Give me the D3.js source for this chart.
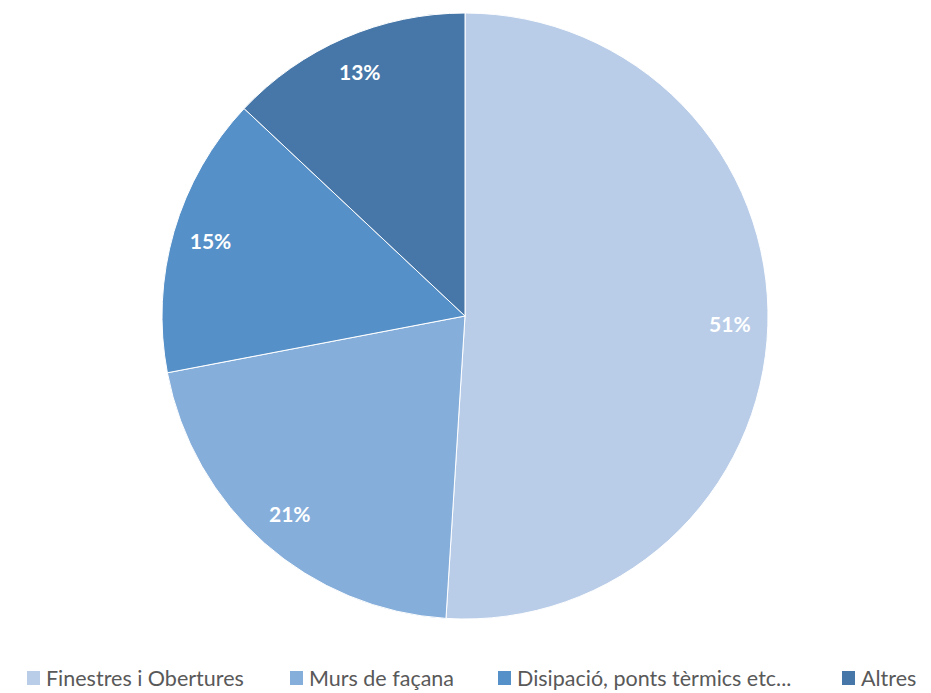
<!DOCTYPE html>
<html>
<head>
<meta charset="utf-8">
<script src="https://cdn.jsdelivr.net/npm/d3@7"></script>
<style>
  body { margin: 0; background: #fff; }
  text { font-family: Lato, "Open Sans", sans-serif; }
</style>
</head>
<body>
<script>
var categories = ["Finestres i Obertures", "Murs de façana", "Disipació, ponts tèrmics etc...", "Altres"];
var values = [51, 21, 15, 13];
var colors = ["#b9cde8", "#85aedb", "#5590c8", "#4677a8"];

var W = 931, H = 693;
var cx = 465, cy = 316, R = 303;

var svg = d3.select("body").append("svg")
  .attr("width", W)
  .attr("height", H);

var pie = d3.pie().sort(null).value(function(d){ return d; });
var arcs = pie(values);

var arc = d3.arc().innerRadius(0).outerRadius(R);
var labelArc = d3.arc().innerRadius(265).outerRadius(265);

var g = svg.append("g").attr("transform", "translate(" + cx + "," + cy + ")");

g.selectAll("path")
  .data(arcs)
  .enter().append("path")
  .attr("d", arc)
  .attr("fill", function(d, i){ return colors[i]; })
  .attr("stroke", "#fff")
  .attr("stroke-width", 1);

g.selectAll("text.lbl")
  .data(arcs)
  .enter().append("text")
  .attr("class", "lbl")
  .attr("transform", function(d){ return "translate(" + labelArc.centroid(d) + ")"; })
  .attr("text-anchor", "middle")
  .attr("dy", "0.35em")
  .attr("fill", "#fff")
  .style("font-weight", "bold")
  .style("font-size", "21px")
  .text(function(d){ return d.value + "%"; });

// legend
var legendX = [27, 290, 498, 842];
var legend = svg.append("g");
var item = legend.selectAll("g")
  .data(categories)
  .enter().append("g")
  .attr("transform", function(d, i){ return "translate(" + legendX[i] + ",678)"; });

item.append("rect")
  .attr("x", 0).attr("y", -7)
  .attr("width", 13).attr("height", 14)
  .attr("fill", function(d, i){ return colors[i]; });

item.append("text")
  .attr("x", 19)
  .attr("dy", "0.35em")
  .attr("fill", "#595959")
  .style("font-size", "21.5px")
  .text(function(d){ return d; });
</script>
</body>
</html>
